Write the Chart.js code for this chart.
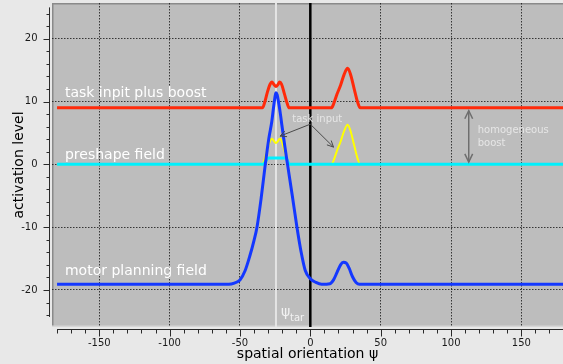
<!DOCTYPE html>
<html>
<head>
<meta charset="utf-8">
<script src="https://cdn.jsdelivr.net/npm/chart.js@4.4.1/dist/chart.umd.min.js"></script>
<style>
  html, body { margin: 0; padding: 0; background: #e8e8e8; }
  canvas { display: block; }
</style>
</head>
<body>
<canvas id="fieldChart" width="563" height="364"></canvas>
<script>
// Values (x = spatial orientation, y = activation level)
const motorX = [-180, -58, -54, -50, -46.3, -43, -40, -37.9, -35, -32, -29.5, -27.4, -26, -25, -24.4, -23.6, -22.5, -21, -20.3, -18.2, -16.2, -12.8, -9.5, -6.5, -3.6, 0, 4, 8, 14, 16.5, 19, 21.5, 23.5, 25.5, 27.5, 30, 32.5, 35, 180];
const motorY = [-19.1, -19.1, -18.9, -18.4, -16.9, -14.6, -12.1, -10, -5.5, 0, 4.1, 6.8, 9.3, 10.9, 11.4, 11.1, 9.8, 7.6, 6.4, 3, 0, -5, -10, -14, -16.9, -18.2, -18.8, -19.1, -19.0, -18.4, -17.2, -16.0, -15.6, -15.7, -16.5, -17.9, -18.8, -19.1, -19.1];

const boostX = [-180, -34, -32.5, -30.5, -28.5, -27.3, -25.8, -24.4, -23, -21.8, -20.5, -18.5, -16.3, -15, 15, 16.5, 19, 21.5, 24, 26.5, 28.5, 31, 33.5, 35.5, 180];
const boostY = [9, 9, 9.8, 11.5, 12.8, 13.1, 12.7, 12.4, 12.7, 13.1, 12.8, 11.3, 9.6, 9, 9, 9.6, 11.2, 12.6, 14.3, 15.3, 14.4, 12.2, 10, 9, 9];

const inputX = boostX;
const inputY = [0, 0, 0.8, 2.5, 3.8, 4.1, 3.7, 3.4, 3.7, 4.1, 3.8, 2.3, 0.6, 0, 0, 0.6, 2.2, 3.6, 5.3, 6.3, 5.4, 3.2, 1, 0, 0];

const preshapeX = [-180, -33.5, -32, -30.5, -29.5, -17.5, -16.3, -15, 180];
const preshapeY = [0, 0, 0.4, 0.95, 1.0, 1.0, 0.6, 0, 0];

const psiTarget = -24.4;
const xMin = -183.6, xMax = 179.6;
const yMin = -25.9, yMax = 25.7;
const xMajorStep = 50, xMinorStep = 10;
const yMajorStep = 10, yMinorStep = 2;

const FONT = '"DejaVu Sans", sans-serif';

function points(xs, ys) {
    return xs.map((x, i) => ({ x: x, y: ys[i] }));
}

// plot background, frame, offset axis spines with major/minor ticks
const plotFrame = {
    id: 'plotFrame',
    beforeDraw(chart) {
        const { ctx, chartArea: a } = chart;
        ctx.save();
        ctx.fillStyle = '#bdbdbd';
        ctx.fillRect(a.left, a.top, a.right - a.left, a.bottom - a.top);
        ctx.strokeStyle = '#8a8a8a';
        ctx.lineWidth = 1.5;
        ctx.beginPath();
        ctx.moveTo(a.left + 0.75, a.bottom);
        ctx.lineTo(a.left + 0.75, a.top + 0.75);
        ctx.lineTo(a.right, a.top + 0.75);
        ctx.stroke();
        ctx.strokeStyle = '#d6d6d6';
        ctx.beginPath();
        ctx.moveTo(a.left, a.bottom - 0.75);
        ctx.lineTo(a.right, a.bottom - 0.75);
        ctx.stroke();
        ctx.restore();
    },
    afterDraw(chart) {
        const { ctx, chartArea: a, scales } = chart;
        const sx = scales.x, sy = scales.y;
        ctx.save();
        ctx.strokeStyle = '#2a2a2a';
        ctx.lineWidth = 1;

        // y spine
        const ax = a.left - 2.5;
        ctx.beginPath();
        ctx.moveTo(ax, sy.getPixelForValue(25));
        ctx.lineTo(ax, sy.getPixelForValue(-24.3));
        ctx.stroke();
        sy.ticks.forEach(t => {
            const py = Math.round(sy.getPixelForValue(t.value)) + 0.5;
            const len = t.value % yMajorStep === 0 ? 6 : 3;
            ctx.beginPath();
            ctx.moveTo(ax - len, py);
            ctx.lineTo(ax, py);
            ctx.stroke();
        });

        // x spine
        const ay = a.bottom + 2.5;
        ctx.beginPath();
        ctx.moveTo(sx.getPixelForValue(-180), ay);
        ctx.lineTo(a.right, ay);
        ctx.stroke();
        sx.ticks.forEach(t => {
            const px = Math.round(sx.getPixelForValue(t.value)) + 0.5;
            const len = t.value % xMajorStep === 0 ? 7 : 4;
            ctx.beginPath();
            ctx.moveTo(px, ay);
            ctx.lineTo(px, ay + len);
            ctx.stroke();
        });
        ctx.restore();
    }
};

function arrowHead(ctx, fromX, fromY, toX, toY, size) {
    const ang = Math.atan2(toY - fromY, toX - fromX);
    ctx.beginPath();
    ctx.moveTo(toX - size * Math.cos(ang - 0.45), toY - size * Math.sin(ang - 0.45));
    ctx.lineTo(toX, toY);
    ctx.lineTo(toX - size * Math.cos(ang + 0.45), toY - size * Math.sin(ang + 0.45));
    ctx.stroke();
}

// field names, arrows and the psi_tar marker
const annotations = {
    id: 'annotations',
    afterDatasetsDraw(chart) {
        const { ctx, scales } = chart;
        const X = v => scales.x.getPixelForValue(v);
        const Y = v => scales.y.getPixelForValue(v);
        ctx.save();

        ctx.fillStyle = '#ffffff';
        ctx.font = '14px ' + FONT;
        ctx.textBaseline = 'alphabetic';
        ctx.fillText('task inpit plus boost', X(-174.4), Y(10.76));
        ctx.fillText('preshape field', X(-174.4), Y(0.89));
        ctx.fillText('motor planning field', X(-174.4), Y(-17.62));

        // task input arrows
        ctx.fillStyle = '#e6e6e6';
        ctx.font = '10px ' + FONT;
        ctx.fillText('task input', X(-12.8), Y(6.68));
        ctx.strokeStyle = '#4a4a4a';
        ctx.lineWidth = 1;
        const sx0 = X(0), sy0 = Y(6.4);
        [[-21.5, 4.5], [16.5, 2.75]].forEach(([tx, ty]) => {
            ctx.beginPath();
            ctx.moveTo(sx0, sy0);
            ctx.lineTo(X(tx), Y(ty));
            ctx.stroke();
            arrowHead(ctx, sx0, sy0, X(tx), Y(ty), 7);
        });

        // homogeneous boost double arrow
        ctx.strokeStyle = '#6e6e6e';
        ctx.lineWidth = 1.5;
        const bx = X(112.6), bTop = Y(8.56), bBot = Y(0.37);
        ctx.beginPath();
        ctx.moveTo(bx, bTop);
        ctx.lineTo(bx, bBot);
        ctx.stroke();
        arrowHead(ctx, bx, bBot, bx, bTop, 9);
        arrowHead(ctx, bx, bTop, bx, bBot, 9);
        ctx.fillStyle = '#e6e6e6';
        ctx.font = '10px ' + FONT;
        ctx.fillText('homogeneous', X(119), Y(4.93));
        ctx.fillText('boost', X(119), Y(2.96));

        // psi_tar label
        ctx.fillStyle = '#f2f2f2';
        ctx.font = '14px ' + FONT;
        ctx.fillText('\u03c8', X(-20.8), Y(-24.14));
        ctx.font = '10px ' + FONT;
        ctx.fillText('tar', X(-14.4), Y(-25.02));
        ctx.restore();
    }
};

const lineStyle = {
    pointRadius: 0,
    fill: false,
    cubicInterpolationMode: 'monotone'
};

new Chart(document.getElementById('fieldChart'), {
    type: 'line',
    data: {
        datasets: [
            Object.assign({ label: 'task input plus boost', data: points(boostX, boostY), borderColor: '#ff2a0a', borderWidth: 3 }, lineStyle),
            Object.assign({ label: 'motor planning field', data: points(motorX, motorY), borderColor: '#1438ff', borderWidth: 3 }, lineStyle),
            Object.assign({ label: 'preshape field', data: points(preshapeX, preshapeY), borderColor: '#00f0ff', borderWidth: 3 }, lineStyle),
            Object.assign({ label: 'task input', data: points(inputX, inputY), borderColor: '#ffff00', borderWidth: 2 }, lineStyle),
            { label: 'psi', data: [{ x: psiTarget, y: yMin }, { x: psiTarget, y: yMax }], borderColor: '#e4e4e4', borderWidth: 2, pointRadius: 0 },
            { label: 'zero', data: [{ x: 0, y: yMin }, { x: 0, y: yMax }], borderColor: '#000000', borderWidth: 2.5, pointRadius: 0 }
        ]
    },
    options: {
        responsive: false,
        animation: false,
        events: [],
        layout: { padding: { top: 3, right: 0, left: 0, bottom: 0 } },
        plugins: {
            legend: { display: false },
            tooltip: { enabled: false }
        },
        scales: {
            x: {
                type: 'linear',
                min: xMin,
                max: xMax,
                afterFit: s => { s.height = 37; },
                grid: {
                    drawTicks: true,
                    tickLength: 10.5,
                    tickColor: 'transparent',
                    color: c => (c.tick && c.tick.value % xMajorStep === 0) ? 'rgba(20,20,20,0.8)' : 'transparent',
                    lineWidth: 1
                },
                border: { display: false, dash: [1.5, 1.5] },
                ticks: {
                    stepSize: xMinorStep,
                    includeBounds: false,
                    autoSkip: false,
                    maxRotation: 0,
                    maxTicksLimit: 100,
                    padding: 0,
                    color: '#1a1a1a',
                    font: { family: FONT, size: 10 },
                    callback: v => v % xMajorStep === 0 ? String(v) : ''
                },
                title: {
                    display: true,
                    text: 'spatial orientation \u03c8',
                    color: '#000000',
                    font: { family: FONT, size: 14 },
                    padding: { top: 0, bottom: 1 }
                }
            },
            y: {
                type: 'linear',
                min: yMin,
                max: yMax,
                afterFit: s => { s.width = 52; },
                grid: {
                    drawTicks: true,
                    tickLength: 14.5,
                    tickColor: 'transparent',
                    color: c => (c.tick && c.tick.value % yMajorStep === 0) ? 'rgba(20,20,20,0.8)' : 'transparent',
                    lineWidth: 1
                },
                border: { display: false, dash: [1.5, 1.5] },
                ticks: {
                    stepSize: yMinorStep,
                    includeBounds: false,
                    autoSkip: false,
                    maxTicksLimit: 100,
                    padding: 0,
                    color: '#1a1a1a',
                    font: { family: FONT, size: 10, lineHeight: 0.5 },
                    callback: v => v % yMajorStep === 0 ? String(v) : ''
                },
                title: {
                    display: true,
                    text: 'activation level',
                    color: '#000000',
                    font: { family: FONT, size: 14 },
                    padding: { top: 11.3, bottom: 0 }
                }
            }
        }
    },
    plugins: [plotFrame, annotations]
});
</script>
</body>
</html>
